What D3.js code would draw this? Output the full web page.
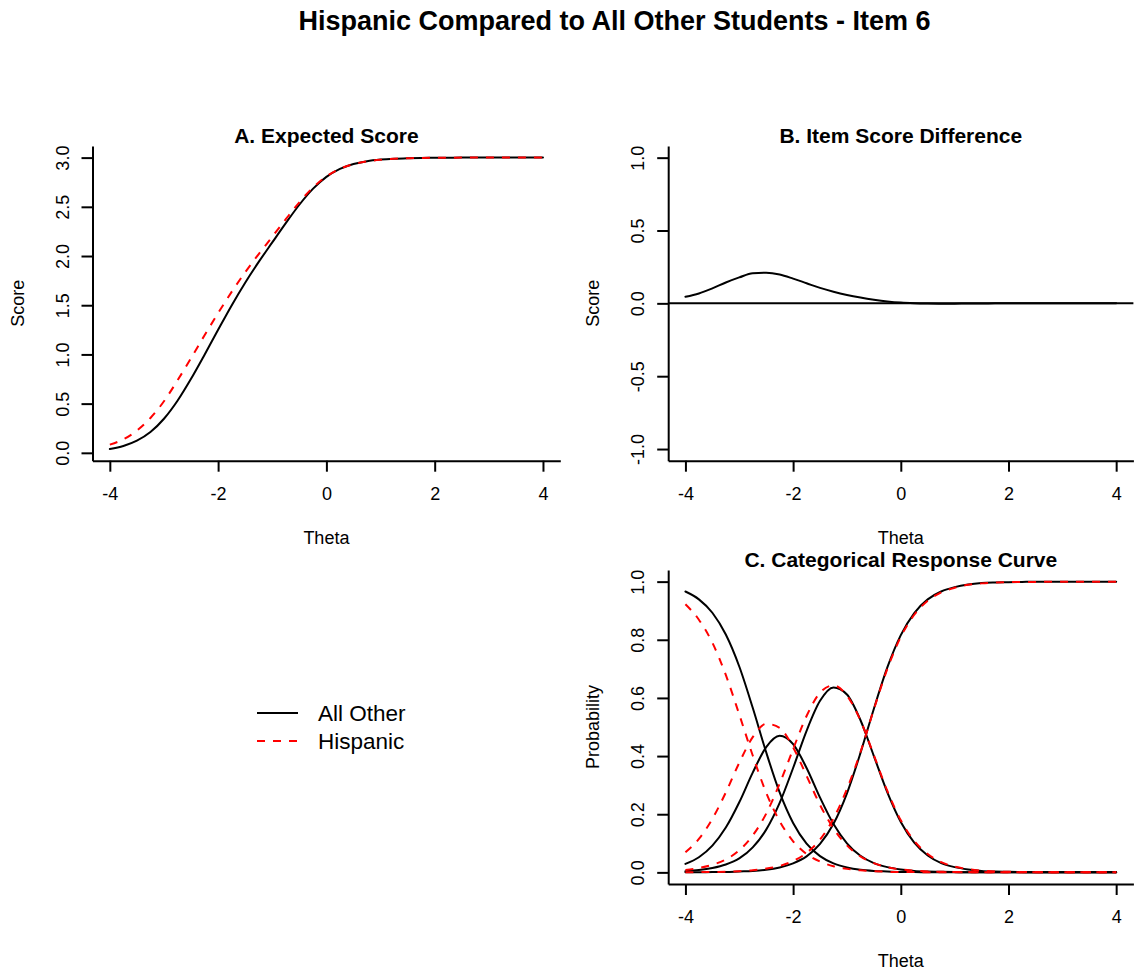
<!DOCTYPE html>
<html>
<head>
<meta charset="utf-8">
<script src="https://cdn.jsdelivr.net/npm/d3@7"></script>
<style>
  body { margin: 0; background: #fff; }
  #svg-container { width: 1143px; height: 975px; }
  svg { display: block; font-family: "Liberation Sans", Arial, Helvetica, sans-serif; }
  .title { font-size: 27px; font-weight: bold; }
  .panel-title { font-size: 21px; font-weight: bold; }
  .unit { font-size: 18px; }
  .legend-texts { font-size: 22.5px; }
</style>
</head>
<body>
<div id="svg-container"></div>
<script>
////////////////////////////////////////////////////////////////////
////////////////////////////  Data  ////////////////////////////////
const theta = [-4, -3.75, -3.5, -3.25, -3, -2.75, -2.5, -2.25, -2, -1.75, -1.5, -1.25, -1, -0.75, -0.5, -0.25,
  0, 0.25, 0.5, 0.75, 1, 1.25, 1.5, 1.75, 2, 2.25, 2.5, 2.75, 3, 3.25, 3.5, 3.75, 4];

// A. expected score
const esAllOther = [0.038, 0.069, 0.123, 0.211, 0.346, 0.529, 0.752, 0.997, 1.250, 1.498, 1.729, 1.940, 2.138, 2.334, 2.521, 2.682,
  2.804, 2.885, 2.935, 2.964, 2.980, 2.989, 2.994, 2.997, 2.998, 2.999, 3.000, 3.000, 3.000, 3.000, 3.000, 3.000, 3.000];
const esHispanic = [0.083, 0.137, 0.226, 0.354, 0.524, 0.736, 0.962, 1.195, 1.420, 1.636, 1.835, 2.020, 2.196, 2.374, 2.546, 2.695,
  2.809, 2.886, 2.934, 2.962, 2.978, 2.988, 2.993, 2.997, 2.998, 2.999, 3.000, 3.000, 3.000, 3.000, 3.000, 3.000, 3.000];

// B. item score difference
const scoreDiff = [0.045, 0.068, 0.103, 0.143, 0.178, 0.207, 0.210, 0.198, 0.170, 0.138, 0.106, 0.080, 0.058, 0.040, 0.025, 0.013,
  0.005, 0.001, -0.001, -0.002, -0.002, -0.001, -0.001, 0, 0, 0, 0, 0, 0, 0, 0, 0, 0];

// C. categorical response curves
const p0AllOther = [0.966, 0.939, 0.893, 0.818, 0.708, 0.566, 0.413, 0.275, 0.170, 0.099, 0.056, 0.031, 0.017, 0.009, 0.005, 0.003,
  0.001, 0.001, 0, 0, 0, 0, 0, 0, 0, 0, 0, 0, 0, 0, 0, 0, 0];
const p1AllOther = [0.029, 0.052, 0.092, 0.154, 0.241, 0.343, 0.431, 0.470, 0.441, 0.359, 0.257, 0.166, 0.100, 0.057, 0.032, 0.018,
  0.010, 0.005, 0.003, 0.002, 0.001, 0, 0, 0, 0, 0, 0, 0, 0, 0, 0, 0, 0];
const p2AllOther = [0.004, 0.008, 0.015, 0.027, 0.048, 0.086, 0.147, 0.239, 0.359, 0.487, 0.590, 0.636, 0.612, 0.524, 0.400, 0.275,
  0.173, 0.102, 0.058, 0.032, 0.018, 0.010, 0.005, 0.003, 0.002, 0.001, 0, 0, 0, 0, 0, 0, 0];
const p3AllOther = [0, 0, 0.001, 0.001, 0.003, 0.005, 0.009, 0.017, 0.031, 0.055, 0.098, 0.167, 0.272, 0.410, 0.563, 0.705,
  0.816, 0.892, 0.939, 0.966, 0.981, 0.990, 0.995, 0.997, 0.998, 0.999, 1, 1, 1, 1, 1, 1, 1];

const p0Hispanic = [0.922, 0.869, 0.790, 0.679, 0.543, 0.402, 0.274, 0.176, 0.107, 0.063, 0.037, 0.021, 0.012, 0.007, 0.004, 0.002,
  0.001, 0.001, 0, 0, 0, 0, 0, 0, 0, 0, 0, 0, 0, 0, 0, 0, 0];
const p1Hispanic = [0.069, 0.115, 0.184, 0.275, 0.377, 0.465, 0.511, 0.497, 0.430, 0.332, 0.232, 0.151, 0.093, 0.055, 0.032, 0.018,
  0.010, 0.006, 0.003, 0.002, 0.001, 0.001, 0, 0, 0, 0, 0, 0, 0, 0, 0, 0, 0];
const p2Hispanic = [0.008, 0.015, 0.026, 0.044, 0.076, 0.127, 0.202, 0.305, 0.424, 0.538, 0.618, 0.643, 0.608, 0.523, 0.403, 0.280,
  0.179, 0.108, 0.063, 0.035, 0.020, 0.011, 0.006, 0.003, 0.002, 0.001, 0.001, 0, 0, 0, 0, 0, 0];
const p3Hispanic = [0, 0.001, 0.001, 0.002, 0.004, 0.007, 0.013, 0.022, 0.039, 0.067, 0.113, 0.185, 0.287, 0.413, 0.561, 0.700,
  0.810, 0.886, 0.934, 0.963, 0.979, 0.989, 0.994, 0.997, 0.998, 0.999, 0.999, 1, 1, 1, 1, 1, 1];

// ticks & labels
const xTicks = [-4, -2, 0, 2, 4];
const yTicksA = [0, 0.5, 1, 1.5, 2, 2.5, 3];
const yTicksB = [-1, -0.5, 0, 0.5, 1];
const yTicksC = [0, 0.2, 0.4, 0.6, 0.8, 1];
const groups = ["All Other", "Hispanic"];
const mainTitle = "Hispanic Compared to All Other Students - Item 6";

////////////////////////////////////////////////////////////////////
////////////////////////////  Init  ///////////////////////////////
const width = 1143;
const height = 975;
const svg = d3.select("#svg-container").append("svg")
  .attr("width", width).attr("height", height);

const groupStyle = {
  "All Other": { color: "#000", dash: null },
  "Hispanic": { color: "#ff0000", dash: "8,8" }
};

svg.append("text")
  .attr("class", "title")
  .attr("x", 614.5).attr("y", 30)
  .attr("text-anchor", "middle")
  .text(mainTitle);

// one R-style panel: L-shaped box, outward ticks, rotated y labels
function drawPanel(p) {
  const x = d3.scaleLinear().domain([-4.32, 4.32]).range([p.left, p.right]);
  const y = d3.scaleLinear().domain(p.yDomain).range([p.bottom, p.top]);
  const g = svg.append("g");

  g.append("g")
    .attr("transform", `translate(0,${p.bottom})`)
    .call(d3.axisBottom(x).tickValues(xTicks).tickSize(11).tickSizeOuter(0).tickFormat((d) => String(d)))
    .call((a) => {
      a.attr("font-family", null).attr("font-size", 18);
      a.selectAll("path, line").attr("stroke-width", 2);
      a.selectAll("text").attr("y", 39).attr("dy", 0);
    });

  g.append("g")
    .attr("transform", `translate(${p.left},0)`)
    .call(d3.axisLeft(y).tickValues(p.yTicks).tickSize(11).tickSizeOuter(0).tickFormat((d) => d.toFixed(1)))
    .call((a) => {
      a.attr("font-family", null).attr("font-size", 18);
      a.selectAll("path, line").attr("stroke-width", 2);
      a.selectAll("text")
        .attr("x", 0).attr("y", -24).attr("dy", 0)
        .attr("text-anchor", "middle")
        .attr("transform", "rotate(-90)");
    });

  const cx = (p.left + p.right) / 2;
  g.append("text").attr("class", "panel-title")
    .attr("x", cx).attr("y", p.top - 3)
    .attr("text-anchor", "middle").text(p.title);

  g.append("text").attr("class", "unit")
    .attr("x", cx).attr("y", p.bottom + 83)
    .attr("text-anchor", "middle").text("Theta");

  g.append("text").attr("class", "unit")
    .attr("transform", `translate(${p.left - 69},${(p.top + p.bottom) / 2}) rotate(-90)`)
    .attr("text-anchor", "middle").text(p.yLabel);

  return { g, x, y };
}

function addCurve(panel, values, group) {
  const line = d3.line()
    .x((d, i) => panel.x(theta[i]))
    .y((d) => panel.y(d))
    .curve(d3.curveMonotoneX);
  panel.g.append("path")
    .datum(values)
    .attr("d", line)
    .attr("fill", "none")
    .attr("stroke", groupStyle[group].color)
    .attr("stroke-width", 2)
    .attr("stroke-linecap", groupStyle[group].dash ? "butt" : "round")
    .attr("stroke-dasharray", groupStyle[group].dash);
}

////////////////////////////////////////////////////////////////////
////////////////////////////  Panels  //////////////////////////////
const panelA = drawPanel({
  left: 92.5, right: 560.3, top: 146, bottom: 460.7,
  yDomain: [-0.08, 3.118], yTicks: yTicksA,
  title: "A. Expected Score", yLabel: "Score"
});
addCurve(panelA, esAllOther, "All Other");
addCurve(panelA, esHispanic, "Hispanic");

const panelB = drawPanel({
  left: 668.2, right: 1133.4, top: 146, bottom: 460.7,
  yDomain: [-1.08, 1.08], yTicks: yTicksB,
  title: "B. Item Score Difference", yLabel: "Score"
});
panelB.g.append("line")
  .attr("x1", 668.2).attr("x2", 1133.4)
  .attr("y1", panelB.y(0)).attr("y2", panelB.y(0))
  .attr("stroke", "#000").attr("stroke-width", 2);
addCurve(panelB, scoreDiff, "All Other");

const panelC = drawPanel({
  left: 668.2, right: 1133.4, top: 570, bottom: 884,
  yDomain: [-0.04, 1.04], yTicks: yTicksC,
  title: "C. Categorical Response Curve", yLabel: "Probability"
});
[p0AllOther, p1AllOther, p2AllOther, p3AllOther].forEach((v) => addCurve(panelC, v, "All Other"));
[p0Hispanic, p1Hispanic, p2Hispanic, p3Hispanic].forEach((v) => addCurve(panelC, v, "Hispanic"));

////////////////////////////////////////////////////////////////////
////////////////////////////  Legend  //////////////////////////////
const legendY = d3.scalePoint().domain(groups).range([713, 741]);

svg.selectAll(".legend-lines")
  .data(groups)
  .enter()
  .append("line")
  .attr("class", "legend-lines")
  .attr("x1", 257).attr("x2", 298)
  .attr("y1", (d) => legendY(d)).attr("y2", (d) => legendY(d))
  .attr("stroke", (d) => groupStyle[d].color)
  .attr("stroke-width", 2)
  .attr("stroke-dasharray", (d) => groupStyle[d].dash);

svg.selectAll(".legend-texts")
  .data(groups)
  .enter()
  .append("text")
  .attr("class", "legend-texts")
  .attr("x", 318)
  .attr("y", (d) => legendY(d) + 8)
  .text((d) => d);
</script>
</body>
</html>
